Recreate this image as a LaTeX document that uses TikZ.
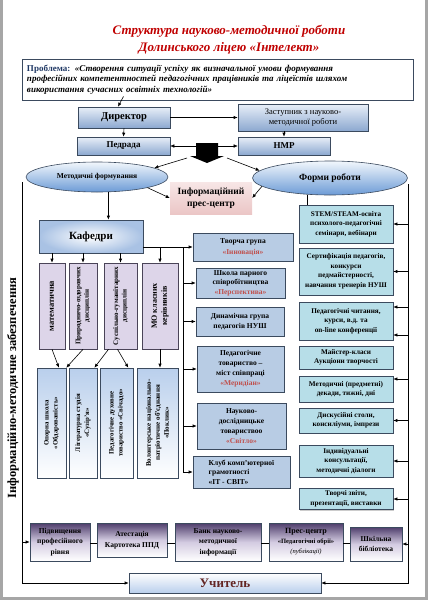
\documentclass[tikz,border=0pt]{standalone}
\usepackage{fontspec}
\setmainfont{Liberation Serif}
\usetikzlibrary{shapes, arrows.meta, calc, shadows, positioning}

\definecolor{titlered}{HTML}{C00000}
\definecolor{probblue}{HTML}{1F3864}
\definecolor{edge}{HTML}{3B4A5E}
\definecolor{dirtop}{HTML}{E8EFF8}
\definecolor{dirbot}{HTML}{8CA8D0}
\definecolor{ovaltop}{HTML}{F2F7FC}
\definecolor{ovalbot}{HTML}{6C9BD6}
\definecolor{presstop}{HTML}{F7E6E6}
\definecolor{pressbot}{HTML}{EBC6C6}
\definecolor{kafblue}{HTML}{A9C2E4}
\definecolor{lilac}{HTML}{DDD5E9}
\definecolor{lilacedge}{HTML}{4A4458}
\definecolor{paleblue}{HTML}{B9CFEC}
\definecolor{groupblue}{HTML}{B8CCE4}
\definecolor{formteal}{HTML}{B7DEE8}
\definecolor{plumtop}{HTML}{4E3D6B}
\definecolor{plummid}{HTML}{D3CBE1}
\definecolor{redtext}{HTML}{C0504D}
\definecolor{teacher}{HTML}{632523}
\definecolor{frame}{HTML}{A6A6A6}

\newcommand{\redname}[1]{\textcolor{redtext}{#1}}

\tikzset{
  wh/.style 2 args={minimum width=#1pt, minimum height=#2pt},
  box/.style={draw=edge, line width=0.6pt, align=center, inner sep=1pt,
    font=\bfseries\fontsize{7.5}{9.5}\selectfont},
  head/.style={box, top color=dirtop, bottom color=dirbot},
  oval/.style={ellipse, draw=edge, line width=0.6pt, top color=ovaltop,
    bottom color=ovalbot, inner sep=0pt},
  dept/.style={box, draw=lilacedge, fill=lilac, rotate=90},
  circle box/.style={box, rotate=90, top color=paleblue, bottom color=white},
  group/.style={box, fill=groupblue, font=\bfseries\fontsize{7.5}{10.5}\selectfont,
    drop shadow={shadow xshift=1.2pt, shadow yshift=-1.2pt, opacity=0.4}},
  form/.style={box, fill=formteal, font=\bfseries\fontsize{7.2}{9.5}\selectfont,
    drop shadow={shadow xshift=1.2pt, shadow yshift=-1.2pt, opacity=0.4}},
  res/.style={box, top color=plumtop, bottom color=white, middle color=plummid,
    font=\bfseries\fontsize{7.5}{10.5}\selectfont},
  link/.style={->, line width=0.6pt},
}

\begin{document}
\begin{tikzpicture}[x=1pt, y=-1pt, >={Latex[length=4pt,width=3.4pt]}]
\useasboundingbox (0,0) rectangle (428,600);
% page frame
\draw[frame, line width=3pt] (1.5,0) -- (1.5,598.5) -- (426.5,598.5) -- (426.5,0);

% title and problem
\node[font=\bfseries\itshape\fontsize{13}{17}\selectfont, text=titlered, align=center] (title) at (229,40)
  {Структура науково-методичної роботи\\Долинського ліцею «Інтелект»};
\node[draw=edge, line width=0.8pt, wh={391}{41}, text width=381pt, align=left, inner sep=4pt,
  font=\bfseries\itshape\fontsize{9}{10.5}\selectfont] (prob) at (217.5,79.5)
  {\textcolor{probblue}{\upshape Проблема:} «Створення ситуації успіху як визначальної умови формування\\
   професійних компетентностей педагогічних працівників та ліцеїстів шляхом\\
   використання сучасних освітніх технологій»};

% administration
\node[head, wh={92}{21}, font=\bfseries\fontsize{10.5}{12}\selectfont] (dir) at (124,117.5) {Директор};
\node[head, wh={130}{27}, font=\fontsize{8.5}{10}\selectfont] (dep) at (303,117.5) {Заступник з науково-\\методичної роботи};
\node[head, wh={93}{18}, font=\bfseries\fontsize{9}{11}\selectfont] (ped) at (123.5,146) {Педрада};
\node[head, wh={92}{18}, font=\bfseries\fontsize{9}{11}\selectfont] (nmr) at (284,146) {НМР};

\draw[link] ([xshift=-94pt, yshift=4pt]prob.south) -- ([xshift=-6pt]dir.north);
\draw[link] (dir.east) -- (dep.west);
\draw[link] (dir.south) -- (ped.north);
\draw[link] (nmr.north |- dep.south) -- (nmr.north);
\draw[<->] (ped.east) -- (nmr.west);

% the black block arrow
\coordinate (blk) at (207,163);
\fill[black] (blk) -- ++(-17,-7) -- ++(6,0) -- ++(0,-13) -- ++(22,0) -- ++(0,13) -- ++(6,0) -- cycle;

% ovals and press centre
\node[oval, wh={142}{30}, font=\bfseries\fontsize{7.5}{9}\selectfont] (mf) at (97,177) {Методичні формування};
\node[oval, wh={155}{34}, font=\bfseries\fontsize{9.5}{11}\selectfont] (fr) at (330,178) {Форми роботи};
\node[top color=presstop, bottom color=pressbot, wh={82}{32}, align=center,
  font=\bfseries\fontsize{9.5}{12}\selectfont] (pc) at (211,198) {Інформаційний\\прес-центр};

\draw[link] ($(blk)+(-20,-5)$) -- (mf.9);
\draw[link] ($(blk)+(20,-5)$) -- (fr.174);
\draw[link] (mf.-12) -- (pc.west);
\draw[link] (fr.187) -- (pc.east);

% chairs
\node[draw=edge, line width=0.6pt, inner color=white, outer color=kafblue, wh={104}{33},
  font=\bfseries\fontsize{11}{13}\selectfont] (kaf) at (91,236.5) {Кафедри};
\draw[link] (mf.-53) -- (mf.-53 |- kaf.north);

\node[dept, wh={86}{26}, font=\bfseries\fontsize{8.5}{10}\selectfont] (p1) at (52,306) {математична};
\node[dept, wh={86}{28}, font=\bfseries\fontsize{7}{8.5}\selectfont] (p2) at (83,306) {Природничо-оздоровчих\\дисциплін};
\node[dept, wh={86}{33}, font=\bfseries\fontsize{7}{8.5}\selectfont] (p3) at (120.5,306) {Суспільно-гуманітарних\\дисциплін};
\node[dept, wh={86}{36}, font=\bfseries\fontsize{8}{10}\selectfont] (p4) at (160,306) {МО класних\\керівників};

\node[circle box, wh={110}{29}, font=\bfseries\fontsize{6.8}{9}\selectfont] (b1) at (51.5,423) {Опорна школа\\«Обдарованість»};
\node[circle box, wh={110}{28}, font=\bfseries\fontsize{6.8}{9}\selectfont] (b2) at (83,423) {Літературна студія\\«Сузір’я»};
\node[circle box, wh={110}{33}, font=\bfseries\fontsize{6.8}{9}\selectfont] (b3) at (116.5,423) {Педагогічне духовне\\товариство «Свічадо»};
\node[circle box, wh={110}{41}, font=\bfseries\fontsize{7}{9}\selectfont] (b4) at (157.5,423) {Волонтерське національно-\\патріотичне об’єднання\\«Поклик»};

% groups
\node[group, wh={100}{28}] (m1) at (243,247) {Творча група\\\redname{«Інновація»}};
\node[group, wh={89}{30}, font=\bfseries\fontsize{7.5}{9.5}\selectfont] (m2) at (240.5,283) {Школа парного\\співробітництва\\\redname{«Перспектива»}};
\node[group, wh={88}{29}] (m3) at (240,321.5) {Динамічна група\\педагогів НУШ};
\node[group, wh={87}{46}, font=\bfseries\fontsize{7.5}{10}\selectfont] (m4) at (240.5,369) {Педагогічне\\товариство –\\міст співпраці\\\redname{«Меридіан»}};
\node[group, wh={89}{46}, font=\bfseries\fontsize{7.5}{10}\selectfont] (m5) at (241.5,426) {Науково-\\дослідницьке\\товариствоо\\\redname{«Світло»}};
\node[group, wh={97}{32}, align=left, font=\bfseries\fontsize{7.5}{9.5}\selectfont] (m6) at (241.5,472) {Клуб комп’ютерної\\грамотності\\«ІТ - СВІТ»};

\draw[link] (kaf.south -| p1.east) -- (p1.east);
\draw[link] (kaf.south -| p2.east) -- (p2.east);
\draw[link] (kaf.south -| p3.east) -- (p3.east);
\draw[link] (kaf.east |- m1.west) -- (m1.west);
\draw[link] (p4.east |- m1.west) -- (p4.east);
\coordinate (mbus) at (183,247);
\draw (mbus) -- (mbus |- m6.west);
\foreach \n in {m2,m3,m4,m5,m6}
  \draw[link] (mbus |- \n.west) -- (\n.west);

\draw[link] (p1.west) -- ($(b1.east)!0.5!(b1.south east)$);
\draw[link] (p2.west) -- (b1.south east);
\draw[link] ($(p3.west)+(-12,0)$) -- ($(b2.east)!0.8!(b2.south east)$);
\draw[link] ($(p3.west)+(-3,0)$) -- ($(b3.east)!0.7!(b3.south east)$);
\draw[link] (p4.west) -- (p4.west |- b4.east);

% forms of work
\node[form, wh={94}{38}] (r1) at (346,224) {STEM/STEAM-освіта\\психолого-педагогічні\\семінари, вебінари};
\node[form, wh={94}{47}] (r2) at (346,271.5) {Сертифікація педагогів,\\конкурси\\педмайстерності,\\навчання тренерів НУШ};
\node[form, wh={94}{38}] (r3) at (346,321) {Педагогічні читання,\\курси, в.д. та\\on-line конференції};
\node[form, wh={94}{23}] (r4) at (346,357.5) {Майстер-класи\\Аукціони творчості};
\node[form, wh={94}{26}] (r5) at (346,389) {Методичні (предметні)\\декади, тижні, дні};
\node[form, wh={94}{25}] (r6) at (346,420.5) {Дискусійні столи,\\консиліуми, імпрези};
\node[form, wh={94}{32}] (r7) at (346,461) {Індивідуальні\\консультації,\\методичні діалоги};
\node[form, wh={94}{21}] (r8) at (346,499) {Творчі звіти,\\презентації, виставки};

\coordinate (frdrop) at (307,195);
\draw (frdrop) -- (frdrop |- r1.north);

% resources
\node[res, wh={60}{38}] (q1) at (60,542) {Підвищення\\професійного\\рівня};
\node[res, wh={70}{34}] (q2) at (132,540) {Атестація\\Картотека ППД};
\node[res, wh={86}{38}] (q3) at (218,542) {Банк науково-\\методичної\\інформації};
\node[res, wh={74}{38}, font=\bfseries\fontsize{8}{10}\selectfont] (q4) at (306,542)
  {Прес-центр\\{\fontsize{6.5}{8}\selectfont«Педагогічні обрії»}\\{\mdseries\itshape\fontsize{6.5}{8}\selectfont(публікації)}};
\node[res, wh={52}{34}] (q5) at (376,544) {Шкільна\\бібліотека};
\foreach \a/\b in {q1/q2, q2/q3, q3/q4, q4/q5}
  \draw (\a.east |- 0,543) -- (\b.west |- 0,543);

\node[draw=edge, line width=0.6pt, top color=white, bottom color=paleblue, wh={192}{20},
  text=teacher, font=\bfseries\fontsize{13}{15}\selectfont] (tch) at (225,583) {Учитель};

% support lines
\node[rotate=90, font=\bfseries\fontsize{12.5}{14}\selectfont] (side) at (13,388) {Інформаційно-методичне забезпечення};
\coordinate (lbtop) at (22,182);
\coordinate (rbtop) at (408,184);
\draw[link] (lbtop) |- (tch.west);
\draw[link] (rbtop) |- (tch.east);
\draw[link] (lbtop |- q1.west) -- (q1.west);
\draw[link] (rbtop |- q5.east) -- (q5.east);

\path (r3.east) ++(0,-14) coordinate (r3a) ++(0,28) coordinate (r3b);
\path (r5.east) ++(0,-10) coordinate (r5a);
\foreach \n in {r1,r2,r3a,r3b,r5a,r6,r7,r8}
  \draw[link] (rbtop |- \n) -- (\n);
\end{tikzpicture}
\end{document}
